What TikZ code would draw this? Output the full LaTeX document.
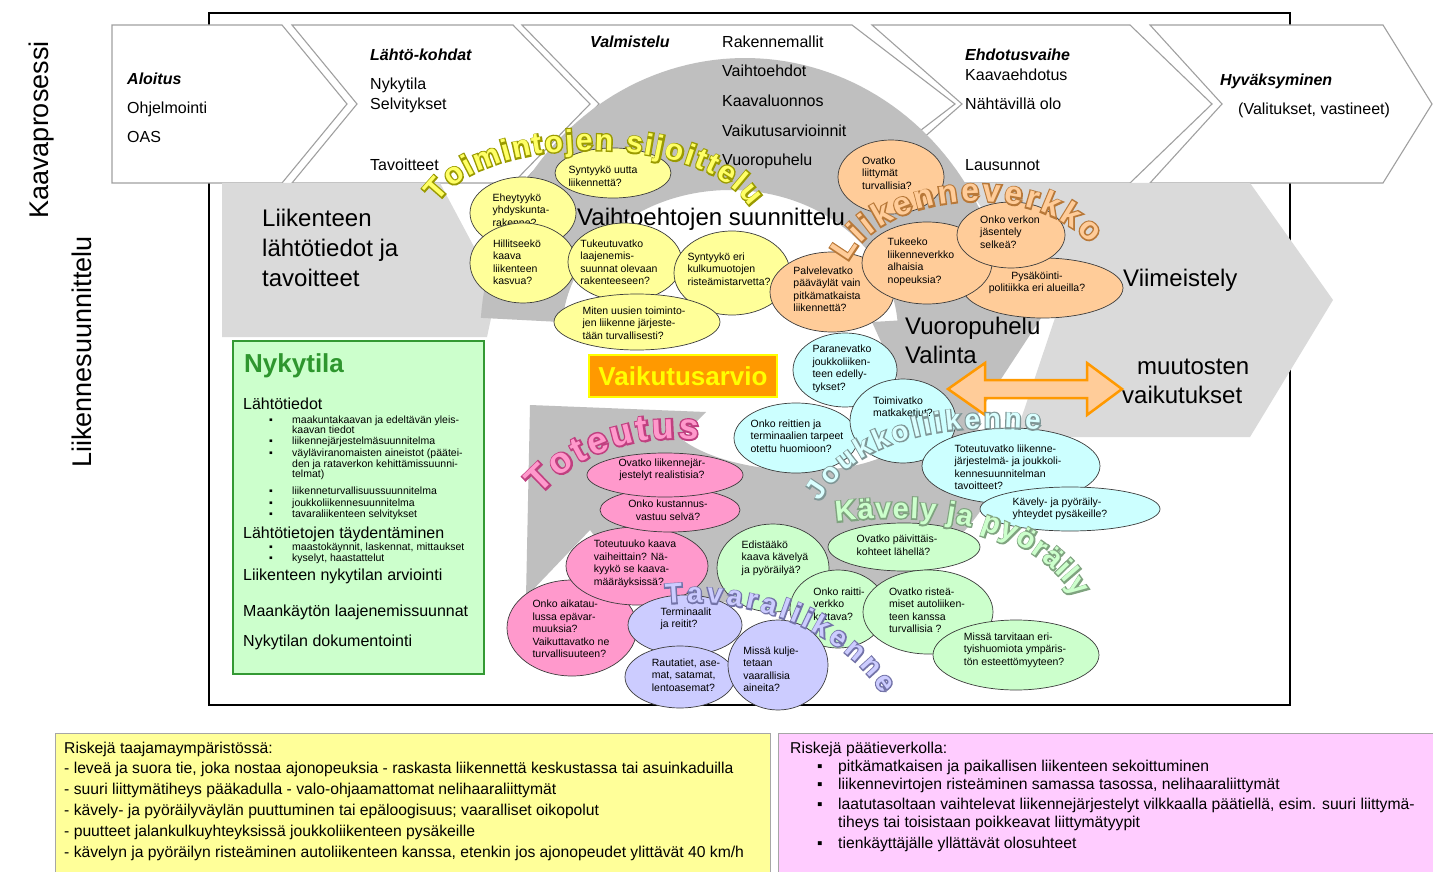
\documentclass[tikz,border=0pt]{standalone}
\usepackage{fontspec}
\setmainfont{Liberation Sans}
\newfontfamily\waout[BoldFeatures={FakeBold=9}]{Liberation Sans}
\usetikzlibrary{shapes.geometric,decorations.text}
\definecolor{lgray}{HTML}{DADADA}
\definecolor{dgray}{HTML}{BFBFBF}
\definecolor{chevline}{HTML}{A0A0A0}
\definecolor{bline}{HTML}{3C3C3C}
\definecolor{cyell}{HTML}{FFFF99}
\definecolor{corng}{HTML}{FFCC99}
\definecolor{ccyan}{HTML}{CCFFFF}
\definecolor{cpink}{HTML}{FF99CC}
\definecolor{clav}{HTML}{CCCCFF}
\definecolor{cgrn}{HTML}{CCFFCC}
\definecolor{gborder}{HTML}{339933}
\definecolor{ntitle}{HTML}{2E962E}
\definecolor{ryellow}{HTML}{FFFF99}
\definecolor{rpink}{HTML}{FFCCFF}
\definecolor{boxline}{HTML}{A6A6A6}
\definecolor{vaorange}{HTML}{FF9900}
\definecolor{vayellow}{HTML}{FFFF00}
\definecolor{ofill}{HTML}{FFCC99}
\definecolor{waYo}{HTML}{9A9A00}\definecolor{waYf}{HTML}{FFFF66}
\definecolor{waOo}{HTML}{B87838}\definecolor{waOf}{HTML}{FFCC99}
\definecolor{waCo}{HTML}{7F9696}\definecolor{waCf}{HTML}{D9FFFF}
\definecolor{waPo}{HTML}{C04080}\definecolor{waPf}{HTML}{FF99CC}
\definecolor{waGo}{HTML}{7FA37F}\definecolor{waGf}{HTML}{CCFFCC}
\definecolor{waLo}{HTML}{7373A8}\definecolor{waLf}{HTML}{CCCCFF}

\newcommand{\bubble}[9][left]{%
  \node[bubble,fill=#3,minimum width=#6,minimum height=#7] (#2) at (#4,#5) {};
  \node[btext,align=#1] (#2t) at #8 {#9};}
\newcommand{\wordart}[5]{%
  \path[decorate,decoration={text along path,text align=fit to path,text color=#3,
    text={|\waout\bfseries\fontsize{#2}{#2}\selectfont|#5}}] #1;
  \path[decorate,decoration={text along path,text align=fit to path,text color=#4,
    text={|\bfseries\fontsize{#2}{#2}\selectfont|#5}}] #1;}

\begin{document}
\begin{tikzpicture}[x=1pt,y=-1pt,
  chev/.style={fill=white,draw=chevline,line width=1.1pt,line join=miter},
  bubble/.style={ellipse,draw=bline,line width=0.7pt,inner sep=0pt},
  btext/.style={font=\fontsize{10.5}{12.5}\selectfont,inner sep=0pt},
  ctext/.style={font=\fontsize{16}{19}\selectfont,anchor=base west,inner sep=0pt},
  cbold/.style={ctext,font=\fontsize{16}{19}\selectfont\bfseries\itshape},
  bigt/.style={font=\fontsize{24}{28}\selectfont,anchor=base west,inner sep=0pt},
  gtext/.style={font=\fontsize{16}{19}\selectfont,anchor=base west,inner sep=0pt},
  bul/.style={font=\fontsize{10.5}{12}\selectfont,anchor=base west,inner sep=0pt},
  risk/.style={font=\fontsize{15.7}{19}\selectfont,anchor=base west,inner sep=0pt},
]
\useasboundingbox (0,0) rectangle (1433,872);
\fill[white] (0,0) rectangle (1433,872);

% frame
\draw[line width=1.3pt] (209,13) rectangle (1290,705);

% chevrons
\draw[chev] (112,25) -- (282,25) -- (347,104) -- (282,183) -- (112,183) -- cycle;
\draw[chev] (292,25) -- (513,25) -- (590,104) -- (513,183) -- (292,183) -- (357,104) -- cycle;
\draw[chev] (522,25) -- (852,25) -- (955,104) -- (852,183) -- (522,183) -- (599,104) -- cycle;
\draw[chev] (872,25) -- (1130,25) -- (1212,104) -- (1130,183) -- (872,183) -- (962,104) -- cycle;
\draw[chev] (1150,25) -- (1383,25) -- (1432,104) -- (1383,183) -- (1150,183) -- (1222,104) -- cycle;

% light gray background arrows
\fill[lgray] (222,183) -- (440,183) -- (497,290) -- (487,337) -- (222,337) -- cycle;
\fill[lgray] (965,183) -- (1250,183) -- (1333,300) -- (1250,437) -- (1015,437) -- (1055,318) -- cycle;

% dark gray cycle arrows
\fill[dgray] plot[domain=4.5:175.5,samples=90] ({745+265*cos(\x)},{340-282*sin(\x)})
  -- plot[domain=176:4,samples=90] ({730+168*cos(\x)},{332-142*sin(\x)}) -- cycle;
\fill[dgray] (872,322) -- (1045,312) -- (940,472) -- cycle;
\fill[dgray] (1008,440) .. controls (990,560) and (860,612) .. (760,606)
  .. controls (680,602) and (620,572) .. (590,530) -- (526,597) -- (530,405) -- (706,412)
  -- (680,438) .. controls (720,470) and (820,482) .. (880,458)
  .. controls (910,446) and (930,432) .. (945,418) -- cycle;

% chevron texts
\node[cbold] (t-alo) at (127,85) {Aloitus};
\node[ctext] (t-ohj) at (127,114) {Ohjelmointi};
\node[ctext] (t-oas) at (127,143) {OAS};
\node[cbold] (t-lah) at (370,61) {Lähtö-kohdat};
\node[ctext] (t-nyk) at (370,90) {Nykytila};
\node[ctext] (t-sel) at (370,110) {Selvitykset};
\node[ctext] (t-tav) at (370,171) {Tavoitteet};
\node[cbold] (t-val) at (590,48) {Valmistelu};
\node[ctext] (t-rak) at (722,48) {Rakennemallit};
\node[ctext] (t-vai) at (722,77) {Vaihtoehdot};
\node[ctext] (t-kaa) at (722,107) {Kaavaluonnos};
\node[ctext] (t-vsa) at (722,137) {Vaikutusarvioinnit};
\node[ctext] (t-vuo) at (722,166) {Vuoropuhelu};
\node[cbold] (t-ehd) at (965,61) {Ehdotusvaihe};
\node[ctext] (t-kae) at (965,81) {Kaavaehdotus};
\node[ctext] (t-nah) at (965,110) {Nähtävillä olo};
\node[ctext] (t-lau) at (965,171) {Lausunnot};
\node[cbold] (t-hyv) at (1220,86) {Hyväksyminen};
\node[ctext] (t-vas) at (1238,115) {(Valitukset, vastineet)};

% side labels
\node[rotate=90,font=\fontsize{27}{30}\selectfont,inner sep=0pt] (kp) at (42,130) {Kaavaprosessi};
\node[rotate=90,font=\fontsize{27}{30}\selectfont,inner sep=0pt] (ls) at (82,352) {Liikennesuunnittelu};

% big texts
\node[bigt] (lt1) at (262,226) {Liikenteen};
\node[bigt] (lt2) at (262,256) {lähtötiedot ja};
\node[bigt] (lt3) at (262,286) {tavoitteet};
\node[bigt] (vsu) at (577,225) {Vaihtoehtojen suunnittelu};
\node[bigt] (vii) at (1123,286) {Viimeistely};
\node[bigt] (vpu) at (905,334) {Vuoropuhelu};
\node[bigt] (vli) at (905,363) {Valinta};
\node[bigt] (muu) at (1137,374) {muutosten};
\node[bigt] (vku) at (1122,403) {vaikutukset};

% orange double arrow
\draw[draw=vaorange,fill=ofill,line width=2.5pt,line join=miter]
  (948,389) -- (985,363) -- (985,380) -- (1087,380) -- (1087,363) -- (1122,389)
  -- (1087,415) -- (1087,398) -- (985,398) -- (985,415) -- cycle;

% Vaikutusarvio
\node[draw=vayellow,fill=vaorange,line width=2pt,minimum width=188,minimum height=42,
  inner sep=0pt,text=vayellow,font=\fontsize{26}{28}\selectfont\bfseries] (vaik) at (683,376) {Vaikutusarvio};

% yellow bubbles
\bubble{y1}{cyell}{613}{173}{116}{50}{(603,176)}{Syntyykö uutta\\liikennettä?}
\bubble{y2}{cyell}{523}{213}{106}{72}{(521,210)}{Eheytyykö\\yhdyskunta-\\rakenne?}
\bubble{y3}{cyell}{523}{263}{106}{80}{(517,262)}{Hillitseekö\\kaava\\liikenteen\\kasvua?}
\bubble{y4}{cyell}{625}{262}{114}{78}{(619,262)}{Tukeutuvatko\\laajenemis-\\suunnat olevaan\\rakenteeseen?}
\bubble{y5}{cyell}{732}{273}{116}{84}{(729,269)}{Syntyykö eri\\kulkumuotojen\\risteämistarvetta?}
\bubble{y6}{cyell}{637}{322}{166}{56}{(634,323)}{Miten uusien toiminto-\\jen liikenne järjeste-\\tään turvallisesti?}

% orange bubbles
\bubble{o1}{corng}{891}{177}{106}{74}{(887,173)}{Ovatko\\liittymät\\turvallisia?}
\bubble[center]{o5}{corng}{1043}{288}{160}{60}{(1037,283)}{Pysäköinti-\\politiikka eri alueilla?}
\bubble{o2}{corng}{832}{292}{124}{80}{(827,289)}{Palvelevatko\\pääväylät vain\\pitkämatkaista\\liikennettä?}
\bubble{o3}{corng}{927}{263}{130}{82}{(921,262)}{Tukeeko\\liikenneverkko\\alhaisia\\nopeuksia?}
\bubble{o4}{corng}{1011}{235}{108}{66}{(1010,232)}{Onko verkon\\jäsentely\\selkeä?}

% cyan bubbles
\bubble{c1}{ccyan}{845}{370}{104}{74}{(842,369)}{Paranevatko\\joukkoliiken-\\teen edelly-\\tykset?}
\bubble{c3}{ccyan}{796}{438}{124}{70}{(797,436)}{Onko reittien ja\\terminaalien tarpeet\\otettu huomioon?}
\bubble{c2}{ccyan}{903}{421}{106}{84}{(903,408)}{Toimivatko\\matkaketjut?}
\bubble{c4}{ccyan}{1011}{466}{178}{76}{(1008,467)}{Toteutuvatko liikenne-\\järjestelmä- ja joukkoli-\\kennesuunnitelman\\tavoitteet?}
\bubble{c5}{ccyan}{1070}{509}{180}{44}{(1060,509)}{Kävely- ja pyöräily-\\yhteydet pysäkeille?}

% green bubbles
\bubble{g1}{cgrn}{773}{568}{112}{88}{(775,558)}{Edistääkö\\kaava kävelyä\\ja pyöräilyä?}
\bubble{g2}{cgrn}{904}{547}{152}{48}{(897,545)}{Ovatko päivittäis-\\kohteet lähellä?}
\bubble{g3}{cgrn}{838}{609}{96}{78}{(839,604)}{Onko raitti-\\verkko\\kattava?}
\bubble{g4}{cgrn}{928}{612}{130}{84}{(927,610)}{Ovatko risteä-\\miset autoliiken-\\teen kanssa\\turvallisia ?}
\bubble{g5}{cgrn}{1016}{655}{166}{70}{(1015,650)}{Missä tarvitaan eri-\\tyishuomiota ympäris-\\tön esteettömyyteen?}

% pink bubbles
\bubble{p4}{cpink}{572}{628}{130}{96}{(571,629)}{Onko aikatau-\\lussa epävar-\\muuksia?\\Vaikuttavatko ne\\turvallisuuteen?}
\bubble{p3}{cpink}{637}{566}{142}{78}{(635,564)}{Toteutuuko kaava\\vaiheittain? Nä-\\kyykö se kaava-\\määräyksissä?}
\bubble[center]{p2}{cpink}{670}{510}{140}{44}{(668,510)}{Onko kustannus-\\vastuu selvä?}
\bubble[center]{p1}{cpink}{665}{475}{156}{44}{(662,470)}{Ovatko liikennejär-\\jestelyt realistisia?}

% lavender bubbles
\bubble{l1}{clav}{685}{625}{114}{60}{(686,619)}{Terminaalit\\ja reitit?}
\bubble{l2}{clav}{680}{677}{110}{62}{(686,675)}{Rautatiet, ase-\\mat, satamat,\\lentoasemat?}
\bubble{l3}{clav}{778}{665}{100}{90}{(771,669)}{Missä kulje-\\tetaan\\vaarallisia\\aineita?}

% Nykytila box
\node[draw=gborder,fill=cgrn,line width=1.5pt,minimum width=251,minimum height=333,
  anchor=north west,inner sep=0pt] (nyk) at (232,340) {};
\node[font=\fontsize{26}{30}\selectfont\bfseries,text=ntitle,anchor=base west,inner sep=0pt] (nyk-t) at (244,372) {Nykytila};
\node[gtext] (n-a) at (243,409) {Lähtötiedot};
\node[bul] (n-b1) at (269,423.5) {▪};
\node[bul] (n-1) at (292,423.5) {maakuntakaavan ja edeltävän yleis-};
\node[bul] (n-1b) at (292,433.5) {kaavan tiedot};
\node[bul] (n-b2) at (269,444.5) {▪};
\node[bul] (n-2) at (292,444.5) {liikennejärjestelmäsuunnitelma};
\node[bul] (n-b3) at (269,456) {▪};
\node[bul] (n-3) at (292,456) {väyläviranomaisten aineistot (päätei-};
\node[bul] (n-3b) at (292,467) {den ja rataverkon kehittämissuunni-};
\node[bul] (n-3c) at (292,477.5) {telmat)};
\node[bul] (n-b4) at (269,494.5) {▪};
\node[bul] (n-4) at (292,494.5) {liikenneturvallisuussuunnitelma};
\node[bul] (n-b5) at (269,506) {▪};
\node[bul] (n-5) at (292,506) {joukkoliikennesuunnitelma};
\node[bul] (n-b6) at (269,517) {▪};
\node[bul] (n-6) at (292,517) {tavaraliikenteen selvitykset};
\node[gtext] (n-c) at (243,538) {Lähtötietojen täydentäminen};
\node[bul] (n-b7) at (269,550.5) {▪};
\node[bul] (n-7) at (292,550.5) {maastokäynnit, laskennat, mittaukset};
\node[bul] (n-b8) at (269,561.5) {▪};
\node[bul] (n-8) at (292,561.5) {kyselyt, haastattelut};
\node[gtext] (n-d) at (243,580) {Liikenteen nykytilan arviointi};
\node[gtext] (n-e) at (243,616) {Maankäytön laajenemissuunnat};
\node[gtext] (n-f) at (243,646) {Nykytilan dokumentointi};

% risk boxes
\node[draw=boxline,fill=ryellow,line width=1pt,minimum width=715,minimum height=141,
  anchor=north west,inner sep=0pt] (ry) at (55,733) {};
\node[risk] (ry0) at (64,753) {Riskejä taajamaympäristössä:};
\node[risk] (ry1) at (64,773) {- leveä ja suora tie, joka nostaa ajonopeuksia - raskasta liikennettä keskustassa tai asuinkaduilla};
\node[risk] (ry2) at (64,794) {- suuri liittymätiheys pääkadulla - valo-ohjaamattomat nelihaaraliittymät};
\node[risk] (ry3) at (64,815) {- kävely- ja pyöräilyväylän puuttuminen tai epäloogisuus; vaaralliset oikopolut};
\node[risk] (ry4) at (64,836) {- puutteet jalankulkuyhteyksissä joukkoliikenteen pysäkeille};
\node[risk] (ry5) at (64,857) {- kävelyn ja pyöräilyn risteäminen autoliikenteen kanssa, etenkin jos ajonopeudet ylittävät 40 km/h};

\node[draw=boxline,fill=rpink,line width=1pt,minimum width=657,minimum height=141,
  anchor=north west,inner sep=0pt] (rp) at (778,733) {};
\node[risk] (rp0) at (790,753) {Riskejä päätieverkolla:};
\node[risk] (rpb1) at (817,771) {▪};
\node[risk] (rp1) at (838,771) {pitkämatkaisen ja paikallisen liikenteen sekoittuminen};
\node[risk] (rpb2) at (817,789) {▪};
\node[risk] (rp2) at (838,789) {liikennevirtojen risteäminen samassa tasossa, nelihaaraliittymät};
\node[risk] (rpb3) at (817,809) {▪};
\node[risk] (rp3) at (838,809) {laatutasoltaan vaihtelevat liikennejärjestelyt vilkkaalla päätiellä, esim. suuri liittymä-};
\node[risk] (rp3b) at (838,827) {tiheys tai toisistaan poikkeavat liittymätyypit};
\node[risk] (rpb4) at (817,848) {▪};
\node[risk] (rp4) at (838,848) {tienkäyttäjälle yllättävät olosuhteet};

% word art labels
\wordart{(438,203) .. controls (483,133) and (702,131) .. (750,207)}{30}{waYo}{waYf}{Toimintojen sijoittelu}
\wordart{(848,262) .. controls (882,192) and (1032,178) .. (1090,244)}{32}{waOo}{waOf}{Liikenneverkko}
\wordart{(820,502) .. controls (858,436) and (950,422) .. (1040,430)}{28}{waCo}{waCf}{Joukkoliikenne}
\wordart{(540,495) .. controls (578,453) and (635,433) .. (698,440)}{36}{waPo}{waPf}{Toteutus}
\wordart{(836,522) .. controls (925,511) and (1025,520) .. (1076,598)}{29}{waGo}{waGf}{Kävely ja pyöräily}
\wordart{(666,604) .. controls (745,596) and (838,625) .. (882,694)}{28}{waLo}{waLf}{Tavaraliikenne}
\end{tikzpicture}
\end{document}
